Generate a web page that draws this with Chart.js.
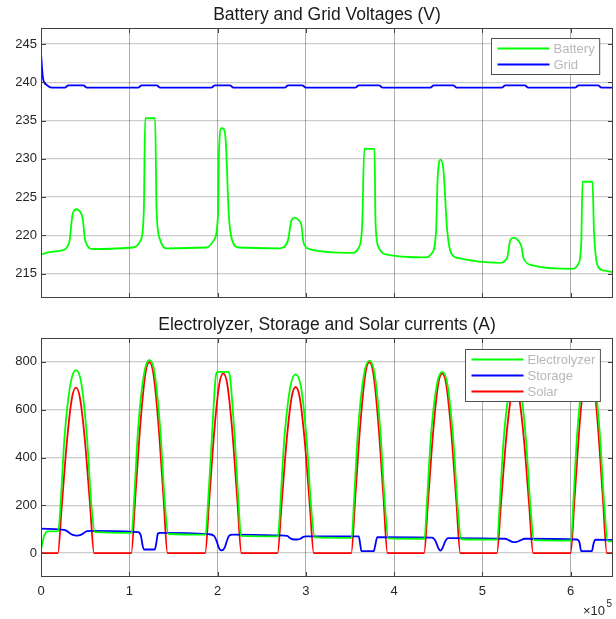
<!DOCTYPE html>
<html>
<head>
<meta charset="utf-8">
<script src="https://cdn.jsdelivr.net/npm/chart.js@4.4.0/dist/chart.umd.min.js"></script>
<style>
  html, body { margin: 0; padding: 0; background: #fff; }
  #wrap { position: relative; width: 616px; height: 619px; }
  canvas { position: absolute; left: 0; }
</style>
</head>
<body>
<div id="wrap">
  <canvas id="volts" width="616" height="310" style="top:0"></canvas>
  <canvas id="amps" width="616" height="309" style="top:310px"></canvas>
</div>
<script>
// ---- data (time in seconds) ----
const batteryT = [0, 10000, 22600, 32000, 35900, 40400, 44100, 47200, 50100, 59200,
  104400, 113100, 116500, 118000, 129300, 130900, 135000, 141400,
  187400, 196000, 200600, 201700, 204400, 207000, 209300, 212700, 216400, 224300,
  270400, 279700, 283900, 287700, 291500, 294900, 297500, 304300,
  352600, 360000, 363900, 366200, 377800, 379000, 382700, 390300,
  435500, 443100, 447600, 449400, 452800, 455900, 460100, 464900, 473200,
  518400, 527900, 531700, 535900, 539900, 544100, 546700, 556200,
  601500, 608900, 612000, 613500, 624800, 626400, 630400, 637200, 648000];
const batteryV = [217.5, 217.8, 218.0, 219.1, 222.8, 223.4, 223.1, 222.2, 219.3, 218.2,
  218.4, 219.4, 223.3, 235.3, 235.3, 223.3, 219.4, 218.3,
  218.4, 219.4, 222.8, 231.1, 234.0, 233.9, 232.3, 222.8, 219.4, 218.4,
  218.3, 219.3, 222.0, 222.3, 222.0, 221.4, 219.0, 218.2,
  217.7, 218.4, 221.5, 231.3, 231.3, 221.5, 218.4, 217.5,
  217.1, 217.7, 220.7, 227.6, 229.9, 228.5, 220.7, 217.6, 217.0,
  216.4, 217.0, 219.4, 219.7, 219.4, 218.6, 217.0, 216.1,
  215.6, 216.3, 219.0, 227.0, 227.0, 220.7, 216.1, 215.4, 215.2];

const gridT = [0, 2300, 6100, 11900, 27000, 31000, 48000, 52000,
  110000, 114000, 131000, 135000, 193000, 197000, 214000, 218000,
  276000, 280000, 296000, 300000, 356000, 360000, 383000, 387000,
  441000, 445000, 467000, 471000, 522000, 526000, 548000, 552000,
  605000, 609000, 631000, 635000, 648000];
const gridV = [243.8, 240.5, 239.7, 239.3, 239.3, 239.6, 239.6, 239.3,
  239.3, 239.6, 239.6, 239.3, 239.3, 239.6, 239.6, 239.3,
  239.3, 239.6, 239.6, 239.3, 239.3, 239.6, 239.6, 239.3,
  239.3, 239.6, 239.6, 239.3, 239.3, 239.6, 239.6, 239.3,
  239.3, 239.6, 239.6, 239.3, 239.3];

const electroT = [0, 3700, 7600, 19600, 22100, 26600, 33600, 39600, 45600, 52100, 57100, 61100,
  102800, 105300, 109800, 116800, 122800, 128800, 135300, 140300, 144300,
  186500, 189000, 193500, 198000, 200000, 212000, 214000, 219500, 224000, 226500,
  268500, 271000, 275500, 282500, 288500, 294500, 301000, 306000, 310000,
  352000, 354500, 359000, 366000, 372000, 378000, 384500, 389500, 393500,
  434500, 437000, 441500, 448500, 454500, 460500, 467000, 472000, 476000,
  517000, 519500, 524000, 531000, 537000, 543000, 549500, 554500, 558500,
  600500, 603000, 607500, 614500, 620500, 626500, 633000, 638000, 642000, 648000];
const electroA = [15, 74, 91, 92, 199, 483, 712, 766, 712, 483, 199, 88,
  85, 210, 509, 751, 808, 751, 509, 210, 80,
  77, 197, 478, 740, 758, 758, 740, 478, 197, 72,
  70, 194, 471, 696, 748, 696, 471, 194, 66,
  64, 209, 507, 749, 805, 749, 507, 209, 62,
  60, 197, 478, 705, 758, 705, 478, 197, 58,
  56, 194, 469, 693, 745, 693, 469, 194, 54,
  52, 208, 504, 744, 800, 744, 504, 208, 50, 49];

const storageT = [0, 22000, 28000, 32000, 36000, 40700, 45000, 49000, 52000, 56000,
  110000, 113000, 115500, 117000, 129000, 130500, 132500, 135000,
  190000, 196000, 199000, 201500, 204500, 208000, 210500, 213000, 217000,
  270000, 279000, 282000, 285000, 290000, 294000, 297000, 300000,
  360000, 361500, 363000, 377000, 378500, 381000,
  443000, 447000, 450000, 452500, 455000, 458000, 461000,
  526000, 530500, 535000, 539000, 543000, 548000,
  607000, 610000, 612000, 624000, 626000, 628000, 648000];
const storageA = [102, 99, 95, 85, 76, 73, 76, 85, 92, 93,
  88, 75, 25, 15, 15, 40, 82, 85,
  79, 72, 50, 22, 11, 22, 50, 72, 77,
  74, 72, 63, 58, 57, 60, 68, 70,
  70, 40, 8, 8, 30, 67,
  65, 50, 22, 10, 22, 50, 63,
  60, 53, 46, 47, 53, 60,
  57, 45, 8, 8, 40, 56, 55];

const solarT = [0, 19100, 23600, 29600, 35100, 39600, 44100, 49600, 55600, 60100,
  102300, 106800, 112800, 118300, 122800, 127300, 132800, 138800, 143300,
  186000, 190500, 196500, 202000, 206500, 211000, 216500, 222500, 227000,
  268000, 272500, 278500, 284000, 288500, 293000, 298500, 304500, 309000,
  351500, 356000, 362000, 367500, 372000, 376500, 382000, 388000, 392500,
  434000, 438500, 444500, 450000, 454500, 459000, 464500, 470500, 475000,
  516500, 521000, 527000, 532500, 537000, 541500, 547000, 553000, 557500,
  600000, 604500, 610500, 616000, 620500, 625000, 630500, 636500, 641000, 648000];
const solarA = [0, 0, 201, 477, 650, 692, 650, 477, 201, 0,
  0, 232, 551, 751, 799, 751, 551, 232, 0,
  0, 218, 519, 707, 752, 707, 519, 218, 0,
  0, 202, 480, 653, 695, 653, 480, 202, 0,
  0, 232, 551, 751, 799, 751, 551, 232, 0,
  0, 218, 519, 707, 752, 707, 519, 218, 0,
  0, 202, 480, 653, 695, 653, 480, 202, 0,
  0, 232, 552, 752, 800, 752, 552, 232, 0, 0];

const timeTicks = [0, 100000, 200000, 300000, 400000, 500000, 600000];
const voltTicks = [215, 220, 225, 230, 235, 240, 245];
const ampTicks = [0, 200, 400, 600, 800];

const pts = (t, v) => t.map((x, i) => ({ x: x, y: v[i] }));

const FONT = "'Liberation Sans', Arial, Helvetica, sans-serif";
const FRAME = '#404040';

// frame, inward ticks, boxed legend and x10^5 label, MATLAB style
const framePlugin = {
  id: 'frame',
  afterDatasetsDraw(chart, args, opts) {
    const { ctx, chartArea: a, scales } = chart;
    ctx.save();
    ctx.strokeStyle = FRAME;
    ctx.lineWidth = 1;
    ctx.strokeRect(Math.round(a.left) + 0.5, Math.round(a.top) + 0.5,
      Math.round(a.right - a.left) - 1, Math.round(a.bottom - a.top) - 1);
    ctx.beginPath();
    scales.y.ticks.forEach(t => {
      const y = Math.round(scales.y.getPixelForValue(t.value)) + 0.5;
      ctx.moveTo(a.left, y); ctx.lineTo(a.left + 5, y);
      ctx.moveTo(a.right, y); ctx.lineTo(a.right - 5, y);
    });
    scales.x.ticks.forEach(t => {
      const x = Math.round(scales.x.getPixelForValue(t.value)) + 0.5;
      ctx.moveTo(x, a.top); ctx.lineTo(x, a.top + 5);
      ctx.moveTo(x, a.bottom); ctx.lineTo(x, a.bottom - 5);
    });
    ctx.stroke();

    // legend
    const sets = chart.data.datasets;
    ctx.font = '13px ' + FONT;
    let tw = 0;
    sets.forEach(d => { tw = Math.max(tw, ctx.measureText(d.label).width); });
    const rowH = opts.rowH;
    const w = 6 + 52 + 4 + tw + 5;
    const h = sets.length * rowH + 4;
    const bx = Math.round(a.right - opts.right - w) + 0.5;
    const by = Math.round(a.top + opts.top) + 0.5;
    ctx.fillStyle = '#fff';
    ctx.fillRect(bx, by, w, h);
    ctx.strokeStyle = '#505050';
    ctx.strokeRect(bx, by, w, h);
    ctx.textBaseline = 'middle';
    ctx.textAlign = 'left';
    sets.forEach((d, i) => {
      const y = by + 2 + rowH * (i + 0.5);
      ctx.strokeStyle = d.borderColor;
      ctx.lineWidth = 2;
      ctx.beginPath();
      ctx.moveTo(bx + 6, y); ctx.lineTo(bx + 58, y);
      ctx.stroke();
      ctx.fillStyle = '#b8b8b8';
      ctx.fillText(d.label, bx + 62, y + 1);
    });

    if (opts.exponent) {
      ctx.fillStyle = '#262626';
      ctx.textBaseline = 'alphabetic';
      ctx.textAlign = 'right';
      ctx.font = '10px ' + FONT;
      ctx.fillText('5', 612, 297);
      ctx.font = '13px ' + FONT;
      ctx.fillText('\u00d710', 605, 305);
    }
    ctx.restore();
  }
};

function lineSet(label, color, data) {
  return {
    label: label, data: data, borderColor: color, backgroundColor: color,
    borderWidth: 1.8, pointRadius: 0, cubicInterpolationMode: 'monotone', fill: false
  };
}

function baseOptions(title, yMin, yMax, yTicks, showX, xHeight, legendPos, exponent) {
  return {
    responsive: false,
    animation: false,
    layout: { padding: { left: 0, right: 3, top: 0, bottom: 0 } },
    plugins: {
      legend: { display: false },
      tooltip: { enabled: false },
      title: {
        display: true, text: title, fullSize: false, color: '#1a1a1a',
        font: { family: FONT, size: 17.5, weight: 'normal', lineHeight: 1.2 },
        padding: { top: 5, bottom: 2 }
      },
      frame: { top: legendPos.top, right: legendPos.right, rowH: legendPos.rowH, exponent: exponent }
    },
    scales: {
      x: {
        type: 'linear', min: 0, max: 648000,
        afterBuildTicks: s => { s.ticks = timeTicks.map(v => ({ value: v })); },
        afterFit: s => { s.height = xHeight; },
        grid: { color: 'rgba(0,0,0,0.32)', drawTicks: false },
        border: { display: false },
        ticks: {
          display: showX, padding: 7, color: '#262626',
          font: { family: FONT, size: 13 },
          callback: v => String(v / 100000)
        }
      },
      y: {
        min: yMin, max: yMax,
        afterBuildTicks: s => { s.ticks = yTicks.map(v => ({ value: v })); },
        afterFit: s => { s.width = 41; },
        grid: { color: 'rgba(0,0,0,0.2)', lineWidth: 1.3, drawTicks: false },
        border: { display: false },
        ticks: { padding: 4, color: '#262626', font: { family: FONT, size: 13 } }
      }
    }
  };
}

new Chart(document.getElementById('volts'), {
  type: 'line',
  data: {
    datasets: [
      lineSet('Battery', '#00ff00', pts(batteryT, batteryV)),
      lineSet('Grid', '#0000ff', pts(gridT, gridV))
    ]
  },
  options: baseOptions('Battery and Grid Voltages (V)', 211.8, 247.1, voltTicks, false, 12,
    { top: 10, right: 14, rowH: 16 }, false),
  plugins: [framePlugin]
});

new Chart(document.getElementById('amps'), {
  type: 'line',
  data: {
    datasets: [
      lineSet('Electrolyzer', '#00ff00', pts(electroT, electroA)),
      lineSet('Storage', '#0000ff', pts(storageT, storageA)),
      lineSet('Solar', '#ff0000', pts(solarT, solarA))
    ]
  },
  options: baseOptions('Electrolyzer, Storage and Solar currents (A)', -100, 900, ampTicks, true, 42,
    { top: 11, right: 13, rowH: 16 }, true),
  plugins: [framePlugin]
});
</script>
</body>
</html>
